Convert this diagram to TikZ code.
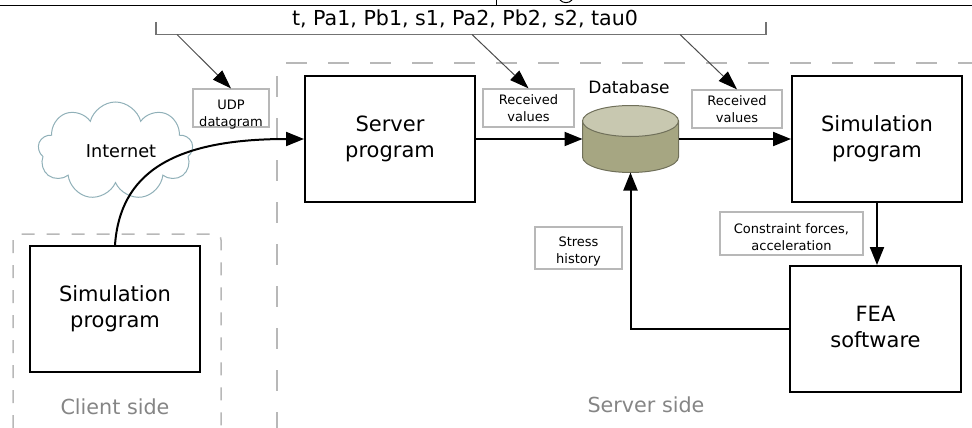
\documentclass[tikz,border=0pt]{standalone}
\usepackage{fontspec}
\setmainfont{DejaVu Sans}
\usetikzlibrary{shapes,arrows.meta,positioning,calc}
\definecolor{dashgray}{gray}{0.72}
\definecolor{boxgray}{gray}{0.72}
\definecolor{sidegray}{gray}{0.52}
\definecolor{dbtop}{HTML}{C8C8B0}
\definecolor{dbside}{HTML}{A6A682}
\definecolor{dbedge}{HTML}{70705A}
\definecolor{cloudline}{HTML}{90B0B8}
\newcommand{\dropline}[2]{\smash{\raisebox{-#1}{#2}}}
\tikzset{
    prog/.style={draw, rectangle, line width=2pt, minimum width=170pt, minimum height=126pt, align=center, inner sep=0pt, font=\fontsize{21}{26}\selectfont},
    labelbox/.style={draw=boxgray, rectangle, line width=1.2pt, align=center, inner sep=0pt, font=\fontsize{13}{17}\selectfont},
    flow/.style={line width=2pt, -{Triangle[length=18pt,width=14pt]}},
    tap/.style={line width=1pt, draw=black!70, -{Triangle[length=19pt,width=13pt,black]}},
    sidebox/.style={draw=dashgray, line width=1.5pt, dash pattern=on 13pt off 12pt},
    servline/.style={draw=dashgray, line width=1.5pt, dash pattern=on 21pt off 21pt},
    sidetext/.style={text=sidegray, font=\fontsize{20.7}{25}\selectfont}
}
\begin{document}
\begin{tikzpicture}[x=1pt, y=-1pt]
    \useasboundingbox (0,0) rectangle (972,428);

    % cut-off page header
    \draw [line width=1pt] (0,5.5) -- (972,5.5);
    \draw [line width=1.6pt] (0,5.5) -- (12,5.5);
    \draw [line width=1pt] (496,0) -- (496,5.5);
    \draw [line width=1pt] (560,0) .. controls (563,3.5) and (569,3.5) .. (572,0);

    % dashed regions
    \draw [sidebox, rounded corners=6pt] (13,428) -- (13,234) -- (221,234) -- (221,428);
    \draw [servline] (277,76) -- (277,428);
    \draw [servline] (286,63) -- (972,63);
    \node [sidetext] (clientside) at (115,407) {Client side};
    \node [sidetext] (serverside) at (646,405) {Server side};

    % blocks
    \node [prog] (server) at (390,139) {Server\\program};
    \node [prog, right=315pt of server] (simserver) {Simulation\\program};
    \node [prog, minimum width=171pt, below=62pt of simserver, xshift=-1.5pt] (fea) {FEA\\software\vphantom{p}};
    \node [prog] (simclient) at (115,309) {Simulation\\program};
    \node [minimum width=96pt, minimum height=67pt, inner sep=0pt, outer sep=0pt, right=106.5pt of server] (db) {};
    \draw [draw=dbedge, line width=1pt, fill=dbside] (db.north west) ++(0,15.5) -- ++(0,36)
        arc [start angle=180, end angle=360, x radius=48pt, y radius=15.5pt] -- ++(0,-36) -- cycle;
    \draw [draw=dbedge, line width=1pt, fill=dbtop] ($(db.north)+(0,15.5)$) ellipse [x radius=48pt, y radius=15.5pt];
    \node [font=\fontsize{17}{20}\selectfont] (dblabel) at (629,87) {Database};
    \node [draw=cloudline, line width=1pt, cloud, cloud puffs=9, aspect=1.6, inner sep=0pt,
        minimum width=155pt, minimum height=98pt, font=\fontsize{17.7}{20}\selectfont] (internet) at (115.5,151) {\hspace*{11pt}Internet};

    % value list
    \node [font=\fontsize{20.6}{24}\selectfont] (values) at (465,18.5) {t, Pa1, Pb1, s1, Pa2, Pb2, s2, tau0};
    \draw [line width=1.5pt, draw=black!55] (156,22) |- (766,34.5) -- (766,22);
    \coordinate (tapudp) at (177,34.5);
    \coordinate (tapsrv) at (472,34.5);
    \coordinate (tapsim) at (680,34.5);

    % value boxes
    \node [labelbox, minimum width=76pt, minimum height=38pt] (udp) at (231,108) {\dropline{10pt}{UDP}\\\dropline{10pt}{datagram}};
    \node [labelbox, minimum width=91pt, minimum height=38pt] (recvsrv) at (528.5,108) {Received\\values};
    \node [labelbox, minimum width=90pt, minimum height=38pt] (recvsim) at (737,109) {Received\\values};
    \node [labelbox, minimum width=143pt, minimum height=43pt] (forces) at (791.5,233.5) {\dropline{8pt}{Constraint forces,}\\\dropline{8pt}{acceleration}};
    \node [labelbox, minimum width=87pt, minimum height=42pt] (stress) at (578.5,248) {\dropline{7pt}{Stress}\\\dropline{7pt}{history}};

    \draw [tap] (tapudp) -- (udp.north);
    \draw [tap] (tapsrv) -- (recvsrv.north);
    \draw [tap] (tapsim) -- (recvsim.north);

    \draw [flow] (simclient.north) .. controls (120,175) and (170,139) .. (server.west);
    \draw [flow] (server) -- (db.west);
    \draw [flow] (db.east) -- (simserver);
    \draw [flow] (simserver.south) -- (simserver.south |- fea.north);
    \draw [flow] (fea.west) -| (db.south);
\end{tikzpicture}
\end{document}
